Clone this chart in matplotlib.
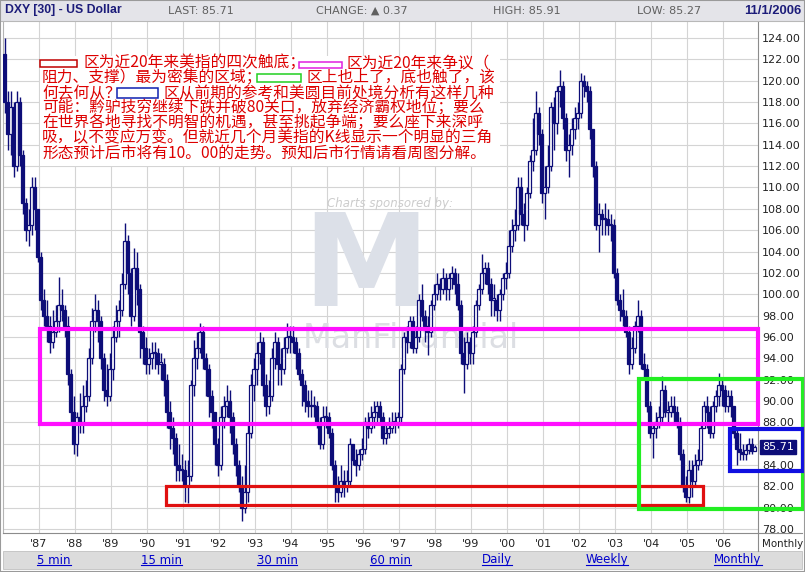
"""DXY 美元指数 月线图 + 注释"""

import numpy as np
import matplotlib.pyplot as plt
from matplotlib.patches import Rectangle
from matplotlib.lines import Line2D
from matplotlib.transforms import blended_transform_factory, IdentityTransform

W, H = 805, 572
navy = '#0d0d78'

# velas mensais jan/1986 .. nov/2006 (abertura = fechamento anterior)
first_open = 122.5
closes = [
    118, 115, 117.5, 112, 118, 113, 108.5, 106, 106.5, 110, 108, 103.5,      # 1986
    99.5, 98, 97, 95.5, 96.5, 97.5, 99, 98.5, 97, 92.5, 89, 86,              # 1987
    88.5, 88, 89.5, 90.5, 94, 97.5, 98.5, 97.5, 94, 91, 90.5, 93,            # 1988
    96, 97.5, 98.5, 101, 105, 102, 98, 102.5, 100.5, 96.5, 95, 93.5,         # 1989
    94, 94.5, 94.5, 93.5, 93.5, 92, 89, 87.5, 86.5, 84, 83.5, 83.5,          # 1990
    82, 83, 91.5, 94, 95, 96.5, 94, 93, 90.5, 89, 86, 84,                    # 1991
    88.5, 89.5, 90, 88.5, 86, 84, 82, 80, 81.5, 87, 91.5, 93,                # 1992
    94.5, 95.5, 91.5, 89.5, 90.5, 94, 95.5, 93.5, 93, 95, 96, 96,            # 1993
    95.5, 94.5, 92.5, 91.5, 90, 89.5, 89.5, 89.5, 88, 86, 88.5, 88.5,        # 1994
    87, 84, 82, 81.5, 82.5, 82, 82.5, 86, 84.5, 84, 85, 85.5,                # 1995
    88, 87.5, 88.5, 89, 89.5, 88.5, 86.5, 87, 87.5, 88, 88, 88.5,            # 1996
    93, 96, 95.5, 97.5, 95, 96, 99.5, 98, 97, 96.5, 99, 100,                 # 1997
    101, 100.5, 101.5, 100.5, 101.5, 102, 101, 99, 94.5, 93.5, 95.5, 94.5,   # 1998
    96.5, 99, 100.5, 102, 102.5, 101, 99.5, 99.5, 98.5, 100, 101.5, 102,     # 1999
    104.5, 106, 106.5, 110, 107.5, 106.5, 109.5, 112.5, 113.5, 117, 115, 109.5,  # 2000
    110, 112, 117.5, 116, 119, 119.5, 116.5, 113.5, 114, 115.5, 116.5, 117,  # 2001
    120, 119.5, 119, 115.5, 112, 106.5, 107.5, 107, 107, 106.5, 106.5, 102,  # 2002
    99.5, 98.5, 98, 96.5, 93.5, 95, 97, 98, 93.5, 93, 89.5, 87,              # 2003
    87.5, 88, 88.5, 91, 89, 89, 89.5, 89, 88, 85, 82, 81,                    # 2004
    83.5, 82.5, 84, 84.5, 87.5, 89.5, 89, 87, 89.5, 90.5, 91.5, 91,          # 2005
    89.5, 90.5, 89.5, 87, 85.5, 85.2, 85, 85.4, 86, 85.34, 85.71,            # 2006
]
highs = [
    124, 119, 119, 118, 119, 118.5, 113.5, 109, 108, 111, 111, 108,
    104, 100.5, 99.5, 98, 98.5, 99, 101.6, 100.5, 99, 98, 93, 90.5,
    89, 90.7, 91.5, 92, 95, 98.7, 100, 99.5, 98, 94.5, 93.5, 94.5,
    97, 99, 99.5, 102, 106.7, 105.5, 102.5, 104.3, 104, 101, 97, 96,
    95, 95.5, 95.5, 95, 94.5, 94, 92.5, 90, 88.5, 87, 86, 85,
    84.5, 84.5, 92, 95.7, 96.5, 97.3, 97, 94.5, 93.5, 91, 89, 86.5,
    89.5, 90.5, 91.5, 91, 89, 86.5, 84.5, 83, 84, 88, 92.5, 94,
    95.5, 96.5, 96, 92.5, 92, 95, 96.5, 96, 95, 96, 97.3, 97,
    97, 96, 95, 93, 92, 91, 91, 90.5, 90, 88.5, 89.5, 89.5,
    89, 87.5, 84.5, 83, 84, 83.5, 83.5, 86.5, 86, 85.5, 85.5, 86.5,
    88.5, 89, 89.5, 90, 90, 90, 89, 88, 88.5, 89, 89, 89,
    93.5, 96.5, 97, 98, 98, 97, 100, 101, 98.5, 98, 99.5, 101,
    102, 101.5, 102.5, 102, 102, 102.6, 102.5, 102, 99.5, 96, 96.5, 96,
    97, 99.5, 101, 103.8, 103, 103, 101.5, 101, 100, 100.5, 102, 103,
    106, 107, 108, 111, 111, 108.5, 110, 113, 116.5, 119, 117.5, 115.5,
    112, 114, 118, 118.5, 119.5, 121, 120, 117, 115, 116.5, 117.5, 118,
    120.7, 120.5, 120, 119.5, 115.5, 112.5, 108.5, 108, 108.5, 108, 107.5, 107,
    102.5, 100, 100.5, 98.5, 97, 96, 97.5, 99.5, 98.5, 94.5, 93.5, 90,
    88, 89, 89.5, 92.3, 91.5, 90, 90.5, 90.5, 89.5, 88.5, 85.5, 83,
    84.5, 84.5, 85, 85.5, 88, 90, 90.5, 89.5, 90, 91, 92.6, 92,
    91.5, 91, 91, 89.5, 87.5, 87, 86, 86, 86.5, 86.5, 85.91,
]
lows = [
    117, 113.5, 113, 111, 111.5, 112, 107.5, 105, 104.5, 105.5, 106, 103,
    98.5, 97, 95.5, 94.5, 95, 96, 96.5, 97.5, 96, 91.5, 88, 85,
    84.8, 87, 87, 89, 90, 93.5, 96.5, 95.5, 93, 90, 89.5, 90,
    92, 95.5, 96, 98, 100.5, 100, 97, 97.5, 99, 94, 93.5, 92.5,
    92.5, 93, 93, 92.5, 92, 90.5, 87.5, 85.5, 85, 82.5, 82.5, 82.5,
    80.5, 80.4, 82.5, 90.5, 93, 94.5, 93, 90.5, 88.5, 87.5, 84, 83,
    83.5, 87.5, 88.5, 87, 85, 83, 81.5, 78.8, 79.5, 80.5, 86.5, 90,
    91.5, 93.5, 90.5, 88.6, 88.8, 90, 93, 91.5, 91.5, 92.5, 94.5, 94.5,
    94.5, 93, 92, 89.5, 89, 88.5, 88.5, 88.5, 87.5, 85.5, 85.5, 87.5,
    86.5, 83.5, 80.5, 80.5, 81, 81, 81.5, 82, 84, 83, 83.5, 84.5,
    85, 86.5, 87, 87.5, 88, 88, 86, 86, 86.5, 87, 87, 87.5,
    88, 92.5, 94.5, 95, 94.5, 94.5, 95.5, 97.5, 95.5, 94.3, 96, 98.5,
    99.5, 99.5, 100, 99.5, 99.5, 100.5, 100, 98.5, 93.5, 90.7, 93, 93.5,
    93.5, 96, 98.5, 100, 101, 100, 98, 98, 97.5, 97.5, 99.5, 100.5,
    101.5, 104, 105, 106, 106.5, 105, 106, 109, 111.5, 113, 114, 108.5,
    107, 109.5, 111.5, 113.5, 115, 117.5, 115.5, 112.5, 111, 113, 114.5, 115.5,
    116.5, 118.5, 118, 114.5, 111, 106, 104, 105.5, 105.5, 105.5, 105, 101.5,
    99, 97.5, 97, 96, 92.5, 93, 94.5, 96.5, 93, 92, 89, 86.5,
    84.7, 86.5, 87.5, 88, 88.5, 88, 88.5, 88, 87.5, 84.5, 81.5, 80.5,
    80.4, 81, 82, 83.5, 84, 87.5, 87.5, 86.5, 86.5, 89, 89.5, 89.5,
    89, 89, 88.5, 86.5, 84, 84.5, 84.5, 84.5, 85, 85, 85.27,
]

year_ticks = list(range(1987, 2007))
year_labels = ["'" + str(y)[2:] for y in year_ticks]
price_ticks = list(range(78, 125, 2))
# 86.00 fica escondido atras da etiqueta do ultimo preco
price_labels = ['' if v == 86 else f'{v:.2f}' for v in price_ticks]

links = ['5 min', '15 min', '30 min', '60 min', 'Daily', 'Weekly', 'Monthly']
link_x = [54, 161, 277, 390, 497, 607, 738]

header_items = [('LAST: 85.71', 168), ('CHANGE: \u25b2 0.37', 316), ('HIGH: 85.91', 493), ('LOW: 85.27', 637)]

# caixas grandes: (x0, y0, x1, y1, cor, largura)
zones = [
    (1987.03, 87.85, 2006.97, 96.75, '#ff10ff', 3.0),
    (1990.53, 80.25, 2005.44, 82.0, '#e01010', 2.3),
    (2003.67, 79.87, 2008.22, 92.06, '#22ee22', 3.0),
    (2006.19, 83.44, 2008.22, 87.37, '#1010e0', 3.0),
]

note_lines = [
    [(83, '区为近20年来美指的四次触底；'), (346, '区为近20年来争议（')],
    [(42, '阻力、支撑）最为密集的区域；'), (306, '区上也上了，底也触了，该')],
    [(42, '何去何从？'), (163, '区从前期的参考和美圆目前处境分析有这样几种')],
    [(42, '可能：黔驴技穷继续下跌并破80关口，放弃经济霸权地位；要么')],
    [(42, '在世界各地寻找不明智的机遇，甚至挑起争端；要么座下来深呼')],
    [(42, '吸，以不变应万变。但就近几个月美指的K线显示一个明显的三角')],
    [(42, '形态预计后市将有10。00的走势。预知后市行情请看周图分解。')],
]
swatches = [('#c00000', 40, 77, 60, 67), ('#e020e0', 299, 342, 62, 68),
            ('#20d020', 257, 301, 74, 82), ('#1020b0', 117, 158, 88, 98)]

cjk = ['Noto Sans CJK SC', 'DejaVu Sans']
head_font = ['Liberation Sans', 'DejaVu Sans']


def fx(px):
    return px / W


def fy(py):
    return 1 - py / H


fig = plt.figure(figsize=(W / 100, H / 100), dpi=100)
fig.patch.set_facecolor('white')

ax = fig.add_axes([fx(3), fy(533), fx(758) - fx(3), fy(22) - fy(533)])
ax.set_xlim(1986.0, 2006.97)
ax.set_ylim(77.63, 125.5)
ax.set_axisbelow(True)
ax.grid(True, color='#d4d4d4', lw=0.8)
ax.set_xticks(year_ticks)
ax.set_xticklabels(year_labels)
ax.set_yticks(price_ticks)
ax.set_yticklabels(price_labels)
ax.yaxis.tick_right()
ax.tick_params(axis='both', length=0, labelsize=8, labelcolor='#222222')
ax.tick_params(axis='x', pad=4)
ax.tick_params(axis='y', pad=3)
ax.spines['top'].set_visible(False)
ax.spines['left'].set_color('#b4b4b4')
ax.spines['right'].set_color('#8c8c8c')
ax.spines['bottom'].set_color('#8c8c8c')

# velas
c = np.array(closes)
o = np.array([first_open] + closes[:-1])
hi = np.array(highs)
lo = np.array(lows)
xs = 1986 + (np.arange(len(c)) + 0.5) / 12
up = c >= o
ax.vlines(xs, lo, hi, color=navy, lw=1.0, zorder=3)
ax.bar(xs, np.maximum(np.abs(c - o), 0.12), bottom=np.minimum(o, c), width=0.062,
       color=np.where(up, 'white', navy), edgecolor=navy, linewidth=0.9, zorder=4)

# marca d'agua
ax.text(fx(327), fy(203), 'Charts sponsored by:', transform=fig.transFigure, style='italic',
        color='#cccccc', fontsize=8.5, va='center', zorder=1.5)
ax.text(fx(366), fy(270), 'M', transform=fig.transFigure, color='#dce0e8', fontsize=92,
        fontweight='bold', ha='center', va='center', zorder=1.5)
ax.text(fx(303), fy(338), 'ManFinancial', transform=fig.transFigure, color='#dcdee3',
        fontsize=24, ha='left', va='center', zorder=1.5)

# caixas
for x0, y0, x1, y1, col, lw in zones:
    ax.add_patch(Rectangle((x0, y0), x1 - x0, y1 - y0, fill=False, ec=col, lw=lw,
                           clip_on=False, zorder=5))

# ultimo preco
tr = blended_transform_factory(ax.transAxes, ax.transData)
ax.text(1.005, closes[-1], f'{closes[-1]:.2f}', transform=tr, color='white', fontsize=8,
        va='center', ha='left', zorder=7, clip_on=False,
        bbox=dict(boxstyle='square,pad=0.2', fc=navy, ec=navy))

# bloco de texto
ax.add_patch(Rectangle((fx(40), fy(166)), fx(500) - fx(40), fy(56) - fy(166), transform=fig.transFigure,
                       fc='white', ec='none', zorder=5.5, clip_on=False))
for i, segs in enumerate(note_lines):
    for x0, s in segs:
        ax.text(fx(x0), fy(63 + 15 * i), s, transform=fig.transFigure, family=cjk,
                color='#dd0000', fontsize=11.3, va='center', ha='left', zorder=6)
for col, x0, x1, y0, y1 in swatches:
    ax.add_patch(Rectangle((fx(x0), fy(y1)), fx(x1) - fx(x0), fy(y0) - fy(y1), transform=fig.transFigure,
                           fill=False, ec=col, lw=1.1, clip_on=False, zorder=6))

# cabecalho
fig.add_artist(Rectangle((0, fy(21)), 1, 1 - fy(21), transform=fig.transFigure,
                         fc='#e4e4e9', ec='none', zorder=1))
fig.add_artist(Line2D([0, 1], [fy(21), fy(21)], transform=fig.transFigure, color='#b8b8b8', lw=0.8, zorder=2))
fig.text(fx(5), fy(10.5), 'DXY [30] - US Dollar', family=head_font,
         fontweight='bold', color='#1c1c7a', fontsize=8.8, va='center', zorder=3)
for s, x0 in header_items:
    fig.text(fx(x0), fy(10.5), s, color='#606060', fontsize=8, va='center', zorder=3)
fig.text(fx(801), fy(10.5), '11/1/2006', family=head_font,
         fontweight='bold', color='#1c1c7a', fontsize=9.4, va='center', ha='right', zorder=3)

# rodape
fig.add_artist(Line2D([fx(758), fx(802)], [fy(533), fy(533)], transform=fig.transFigure, color='#8c8c8c', lw=0.8))
fig.add_artist(Line2D([fx(758), fx(758)], [fy(533), fy(551)], transform=fig.transFigure, color='#8c8c8c', lw=0.8))
fig.text(fx(762), fy(544), 'Monthly', color='#222222', fontsize=7.4, va='center')
fig.add_artist(Rectangle((fx(3), fy(569)), fx(802) - fx(3), fy(551) - fy(569), transform=fig.transFigure,
                         fc='#dcdcdc', ec='#c0c0c0', lw=0.6, zorder=1))
link_texts = []
for s, x0 in zip(links, link_x):
    t = fig.text(fx(x0), fy(560), s, color='#0000cc', fontsize=8.5, ha='center', va='center', zorder=3)
    link_texts.append(t)
fig.add_artist(Rectangle((0, 0), 1, 1, transform=fig.transFigure, fill=False, ec='#9a9a9a', lw=1.5, zorder=10))

fig.canvas.draw()
r = fig.canvas.get_renderer()
for t in link_texts:
    bb = t.get_window_extent(r)
    fig.add_artist(Line2D([bb.x0, bb.x1], [bb.y0 + 2, bb.y0 + 2], transform=IdentityTransform(),
                          color='#0000cc', lw=0.8, zorder=3))

fig.savefig('out.png', dpi=100)
